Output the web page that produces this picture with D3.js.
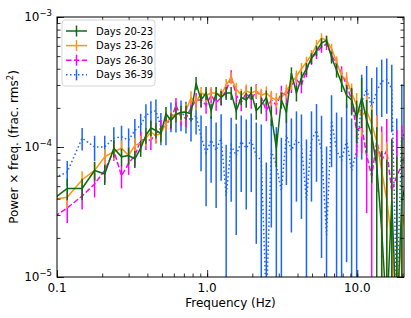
<!DOCTYPE html>
<head>
<meta charset="utf-8">
<script src="https://d3js.org/d3.v7.min.js"></script>
<style>
  body { margin: 0; background: #fff; }
  svg text { font-family: "DejaVu Sans", sans-serif; fill: #000; }
  .axis path { display: none; }
  .axis line { stroke: #000; stroke-width: 0.8; }
  .axis text { display: none; }
</style>
</head>
<body>
<div class="chart"></div>
<script>
// frequency bins (Hz)
var freq = [0.087, 0.117, 0.147, 0.178, 0.208, 0.239, 0.269, 0.300, 0.330, 0.361,
  0.391, 0.422, 0.456, 0.492, 0.532, 0.574, 0.620, 0.670, 0.723, 0.781,
  0.844, 0.911, 0.984, 1.063, 1.148, 1.240, 1.339, 1.446, 1.562, 1.687,
  1.822, 1.968, 2.125, 2.295, 2.479, 2.677, 2.891, 3.123, 3.372, 3.642,
  3.934, 4.248, 4.588, 4.955, 5.352, 5.780, 6.242, 6.742, 7.281, 7.864,
  8.493, 9.172, 9.906, 10.70, 11.55, 12.48, 13.48, 14.55, 15.72, 16.98,
  18.33, 19.80, 21.38];

// Days 20-23
var pow2023 = [3.7e-5, 4.8e-5, 4.8e-5, 6.6e-5, 6.2e-5, 9.8e-5, 8.4e-5, 8.6e-5, 8.1e-5, 9.8e-5,
  1.23e-4, 1.40e-4, 1.34e-4, 1.27e-4, 1.80e-4, 1.60e-4, 1.78e-4, 1.85e-4, 1.85e-4, 1.80e-4,
  3.1e-4, 2.3e-4, 2.6e-4, 1.9e-4, 2.6e-4, 2.4e-4, 2.6e-4, 2.6e-4, 1.9e-4, 2.4e-4,
  2.3e-4, 2.6e-4, 1.9e-4, 2.1e-4, 2.4e-4, 1.75e-4, 9.8e-5, 2.3e-4, 1.85e-4, 3.7e-4,
  2.6e-4, 3.4e-4, 4.0e-4, 4.8e-4, 5.5e-4, 6.3e-4, 6.6e-4, 4.9e-4, 3.9e-4, 3.1e-4,
  2.5e-4, 2.3e-4, 1.67e-4, 2.4e-4, 1.6e-4, 1.23e-4, 7.2e-5, 2.3e-5, 5e-6, 3.9e-5,
  4e-6, 3.9e-5, 5.5e-5];
var err2023 = [7e-6, 9e-6, 9e-6, 1.1e-5, 1.1e-5, 1.5e-5, 1.3e-5, 1.3e-5, 1.2e-5, 1.4e-5,
  1.7e-5, 1.9e-5, 1.8e-5, 1.8e-5, 2.3e-5, 2.1e-5, 2.3e-5, 2.3e-5, 2.3e-5, 2.3e-5,
  3.5e-5, 2.8e-5, 3.0e-5, 2.6e-5, 3.0e-5, 3.0e-5, 3.0e-5, 3.0e-5, 2.8e-5, 3.0e-5,
  3.0e-5, 3.0e-5, 2.8e-5, 3.0e-5, 3.2e-5, 3.0e-5, 2.8e-5, 3.3e-5, 3.2e-5, 4.0e-5,
  3.6e-5, 4.0e-5, 4.2e-5, 4.5e-5, 5.0e-5, 5.5e-5, 5.8e-5, 5.2e-5, 4.8e-5, 4.5e-5,
  5.0e-5, 5.5e-5, 6.0e-5, 1.0e-4, 7.0e-5, 7.0e-5, 7.0e-5, 7.0e-5, 7.5e-5, 7.5e-5,
  8.0e-5, 8.0e-5, 8.0e-5];

// Days 23-26
var pow2326 = [3.9e-5, 4.1e-5, 5.6e-5, 6.6e-5, 8.4e-5, 9.2e-5, 9.8e-5, 8.6e-5, 1.03e-4, 1.07e-4,
  1.17e-4, 1.30e-4, 1.23e-4, 1.27e-4, 1.52e-4, 1.70e-4, 1.80e-4, 1.80e-4, 1.90e-4, 2.4e-4,
  2.2e-4, 2.6e-4, 2.5e-4, 2.6e-4, 2.6e-4, 2.5e-4, 3.0e-4, 3.4e-4, 2.8e-4, 2.5e-4,
  2.7e-4, 2.6e-4, 2.7e-4, 2.5e-4, 2.6e-4, 2.4e-4, 2.3e-4, 2.4e-4, 2.7e-4, 3.1e-4,
  3.5e-4, 4.0e-4, 4.5e-4, 5.1e-4, 6.1e-4, 6.9e-4, 6.6e-4, 5.7e-4, 4.5e-4, 3.5e-4,
  3.3e-4, 2.6e-4, 2.1e-4, 1.75e-4, 1.9e-4, 1.5e-4, 1.1e-4, 6.6e-5, 3.9e-5, 1.9e-5,
  5e-6, 2.3e-5, 3.9e-5];
var err2326 = [6e-6, 7e-6, 9e-6, 1.0e-5, 1.2e-5, 1.3e-5, 1.4e-5, 1.3e-5, 1.5e-5, 1.5e-5,
  1.6e-5, 1.8e-5, 1.7e-5, 1.8e-5, 2.0e-5, 2.2e-5, 2.3e-5, 2.3e-5, 2.4e-5, 2.8e-5,
  2.7e-5, 3.0e-5, 3.0e-5, 3.0e-5, 3.0e-5, 3.0e-5, 3.3e-5, 3.6e-5, 3.2e-5, 3.0e-5,
  3.2e-5, 3.1e-5, 3.2e-5, 3.1e-5, 3.2e-5, 3.1e-5, 3.0e-5, 3.1e-5, 3.3e-5, 3.6e-5,
  3.8e-5, 4.2e-5, 4.5e-5, 4.8e-5, 5.5e-5, 6.0e-5, 5.8e-5, 5.3e-5, 4.8e-5, 4.4e-5,
  4.6e-5, 4.8e-5, 5.0e-5, 5.5e-5, 6.0e-5, 6.0e-5, 6.5e-5, 6.5e-5, 7.0e-5, 7.0e-5,
  7.5e-5, 7.5e-5, 8.0e-5];

// Days 26-30
var pow2630 = [2.7e-5, 3.4e-5, 4.2e-5, 5.2e-5, 6.6e-5, 9.4e-5, 6.0e-5, 7.5e-5, 8.6e-5, 1.13e-4,
  1.13e-4, 1.13e-4, 1.27e-4, 1.40e-4, 1.55e-4, 1.60e-4, 2.1e-4, 1.7e-4, 1.67e-4, 2.0e-4,
  2.3e-4, 2.3e-4, 2.1e-4, 2.5e-4, 2.2e-4, 2.4e-4, 2.7e-4, 3.5e-4, 2.5e-4, 2.2e-4,
  2.6e-4, 2.3e-4, 2.7e-4, 2.4e-4, 1.9e-4, 2.3e-4, 2.1e-4, 2.6e-4, 2.5e-4, 3.0e-4,
  3.3e-4, 3.0e-4, 3.9e-4, 4.8e-4, 5.3e-4, 5.9e-4, 6.2e-4, 5.1e-4, 4.3e-4, 3.7e-4,
  3.0e-4, 2.3e-4, 1.34e-4, 1.45e-4, 8.6e-5, 6.0e-5, 1.1e-4, 7.9e-5, 9.4e-5, 4.6e-5,
  6.0e-5, 7.2e-5, 9.4e-5];
var err2630 = [6e-6, 8e-6, 9e-6, 1.1e-5, 1.3e-5, 1.6e-5, 1.2e-5, 1.4e-5, 1.5e-5, 1.8e-5,
  1.8e-5, 1.8e-5, 2.0e-5, 2.1e-5, 2.3e-5, 2.4e-5, 2.8e-5, 2.5e-5, 2.5e-5, 2.8e-5,
  3.0e-5, 3.0e-5, 3.0e-5, 3.2e-5, 3.0e-5, 3.2e-5, 3.4e-5, 4.0e-5, 3.3e-5, 3.2e-5,
  3.4e-5, 3.3e-5, 3.5e-5, 3.4e-5, 3.2e-5, 3.4e-5, 3.3e-5, 3.6e-5, 3.6e-5, 4.0e-5,
  4.2e-5, 4.1e-5, 4.6e-5, 5.2e-5, 5.6e-5, 6.0e-5, 6.2e-5, 5.5e-5, 5.0e-5, 4.8e-5,
  4.8e-5, 5.0e-5, 5.0e-5, 5.5e-5, 5.5e-5, 6.0e-5, 6.5e-5, 6.5e-5, 7.0e-5, 7.0e-5,
  7.5e-5, 7.5e-5, 8.0e-5];

// Days 36-39
var pow3639 = [5.5e-5, 6.4e-5, 1.17e-4, 1.0e-4, 1.0e-4, 1.17e-4, 1.2e-4, 1.13e-4, 1.34e-4, 1.47e-4,
  1.75e-4, 1.85e-4, 1.9e-4, 1.43e-4, 1.43e-4, 1.75e-4, 1.75e-4, 1.8e-4, 1.75e-4, 1.6e-4,
  1.75e-4, 1.2e-4, 9.0e-5, 1.13e-4, 9.4e-5, 1.17e-4, 4.2e-5, 1.03e-4, 8.6e-5, 1.1e-4,
  9.8e-5, 1.13e-4, 8.6e-5, 7.9e-5, 6e-6, 9.4e-5, 7.2e-5, 4.6e-5, 1.23e-4, 9.4e-5,
  1.13e-4, 1.03e-4, 3.9e-5, 1.13e-4, 1.34e-4, 9.4e-5, 2.1e-5, 1.6e-4, 9.4e-5, 7.9e-5,
  1.13e-4, 6.6e-5, 9.4e-5, 2.2e-4, 2.8e-4, 2.0e-4, 2.7e-4, 3.2e-4, 3.3e-4, 2.8e-4,
  6e-6, 1.34e-4, 1.0e-4];
var err3639 = [1.2e-5, 1.4e-5, 2.3e-5, 2.2e-5, 2.2e-5, 2.5e-5, 2.6e-5, 2.6e-5, 3.0e-5, 3.3e-5,
  3.8e-5, 4.0e-5, 4.2e-5, 4.0e-5, 4.0e-5, 4.5e-5, 4.6e-5, 4.8e-5, 4.8e-5, 5.0e-5,
  5.0e-5, 5.5e-5, 5.5e-5, 6.0e-5, 6.0e-5, 6.2e-5, 6.2e-5, 6.5e-5, 6.5e-5, 6.5e-5,
  6.5e-5, 6.8e-5, 6.8e-5, 7.0e-5, 7.0e-5, 7.0e-5, 7.0e-5, 7.2e-5, 7.2e-5, 7.2e-5,
  7.5e-5, 7.5e-5, 7.5e-5, 7.5e-5, 8.0e-5, 8.0e-5, 8.0e-5, 9.0e-5, 9.0e-5, 9.0e-5,
  1.0e-4, 1.0e-4, 1.1e-4, 1.4e-4, 1.4e-4, 1.4e-4, 1.4e-4, 1.5e-4, 1.5e-4, 1.5e-4,
  1.6e-4, 1.7e-4, 1.7e-4];

var seriesNames = ["Days 20-23", "Days 23-26", "Days 26-30", "Days 36-39"];
var xTickLabels = ["0.1", "1.0", "10.0"];
var yTickExps = ["\u22125", "\u22124", "\u22123"];

var colours = ["#0f6b12", "#ff9416", "#ff00ff", "#1a64ff"];
var dashes = [null, null, "5.5,2.4", "1.5,2.5"];

var series = [
  {name: seriesNames[0], p: pow2023, e: err2023, c: colours[0], d: dashes[0]},
  {name: seriesNames[1], p: pow2326, e: err2326, c: colours[1], d: dashes[1]},
  {name: seriesNames[2], p: pow2630, e: err2630, c: colours[2], d: dashes[2]},
  {name: seriesNames[3], p: pow3639, e: err3639, c: colours[3], d: dashes[3]}
];

var W = 411, H = 318;
var margin = {top: 17, right: 7, bottom: 41, left: 57};
var width = W - margin.left - margin.right,
    height = H - margin.top - margin.bottom;

var svg = d3.select(".chart").append("svg")
    .attr("width", W).attr("height", H);

var x = d3.scaleLog().domain([0.1, 20.48]).range([0, width]);
var y = d3.scaleLog().domain([1e-5, 1e-3]).range([height, 0]);

var g = svg.append("g")
    .attr("transform", "translate(" + margin.left + "," + margin.top + ")");

g.append("clipPath").attr("id", "clip")
  .append("rect").attr("width", width).attr("height", height);

var plot = g.append("g").attr("clip-path", "url(#clip)");

var line = d3.line()
    .x(function(d, i) { return x(freq[i]); })
    .y(function(d) { return y(d); });

function lo(v) { return Math.max(v, 1e-8); }

// blue first so green ends up on top
series.slice().reverse().forEach(function(s) {
  var sg = plot.append("g");
  sg.selectAll("line")
    .data(s.p)
    .enter().append("line")
    .attr("x1", function(d, i) { return x(freq[i]); })
    .attr("x2", function(d, i) { return x(freq[i]); })
    .attr("y1", function(d, i) { return y(lo(d - s.e[i])); })
    .attr("y2", function(d, i) { return y(d + s.e[i]); })
    .attr("stroke", s.c)
    .attr("stroke-width", 1.5);
  sg.append("path")
    .datum(s.p)
    .attr("d", line)
    .attr("fill", "none")
    .attr("stroke", s.c)
    .attr("stroke-width", 1.5)
    .attr("stroke-dasharray", s.d);
});

// axes: ticks inside on all four sides
var xMinor = x.ticks(), yMinor = y.ticks();
var xMajor = [0.1, 1, 10], yMajor = [1e-5, 1e-4, 1e-3];

function ax(gen, scale, vals, size, tr) {
  g.append("g").attr("class", "axis")
    .attr("transform", tr)
    .call(gen(scale).tickValues(vals).tickSize(size).tickSizeOuter(0).tickFormat(""));
}
ax(d3.axisBottom, x, xMinor, -3.5, "translate(0," + height + ")");
ax(d3.axisBottom, x, xMajor, -7, "translate(0," + height + ")");
ax(d3.axisTop, x, xMinor, -3.5, "translate(0,0)");
ax(d3.axisTop, x, xMajor, -7, "translate(0,0)");
ax(d3.axisLeft, y, yMinor, -3.5, "translate(0,0)");
ax(d3.axisLeft, y, yMajor, -7, "translate(0,0)");
ax(d3.axisRight, y, yMinor, -3.5, "translate(" + width + ",0)");
ax(d3.axisRight, y, yMajor, -7, "translate(" + width + ",0)");

g.append("rect")
  .attr("width", width).attr("height", height)
  .attr("fill", "none").attr("stroke", "#000").attr("stroke-width", 1);

// tick labels
g.selectAll(".xlab").data(xMajor).enter().append("text")
  .attr("x", function(d) { return x(d); })
  .attr("y", height + 15)
  .attr("text-anchor", "middle")
  .style("font-size", "12px")
  .text(function(d, i) { return xTickLabels[i]; });

var yl = g.selectAll(".ylab").data(yMajor).enter().append("text")
  .attr("x", -5)
  .attr("y", function(d) { return y(d) + 4; })
  .attr("text-anchor", "end")
  .style("font-size", "12px");
yl.append("tspan").text("10");
yl.append("tspan").attr("dy", -5).style("font-size", "8.5px")
  .text(function(d, i) { return yTickExps[i]; });

// axis titles
g.append("text")
  .attr("x", width / 2).attr("y", height + 30)
  .attr("text-anchor", "middle")
  .style("font-size", "12px")
  .text("Frequency (Hz)");

var yt = svg.append("text")
  .attr("transform", "translate(18," + (margin.top + height / 2) + ") rotate(-90)")
  .attr("text-anchor", "middle")
  .style("font-size", "12px");
yt.append("tspan").text("Power \u00d7 freq. (frac. rms");
yt.append("tspan").attr("dy", -5).style("font-size", "8.5px").text("2");
yt.append("tspan").attr("dy", 5).text(")");

// legend
var leg = g.append("g").attr("transform", "translate(5,3)");
leg.append("rect")
  .attr("width", 93).attr("height", 66).attr("rx", 3)
  .attr("fill", "#fff").attr("fill-opacity", 0.8)
  .attr("stroke", "#ccc").attr("stroke-width", 0.8);

var rows = leg.selectAll(".row").data(series).enter().append("g")
  .attr("transform", function(d, i) { return "translate(0," + (11 + i * 14.6) + ")"; });
rows.append("line")
  .attr("x1", 4).attr("x2", 25).attr("y1", 0).attr("y2", 0)
  .attr("stroke", function(d) { return d.c; })
  .attr("stroke-width", 1.5)
  .attr("stroke-dasharray", function(d) { return d.d; });
rows.append("line")
  .attr("x1", 14.5).attr("x2", 14.5).attr("y1", -5.5).attr("y2", 5.5)
  .attr("stroke", function(d) { return d.c; })
  .attr("stroke-width", 1.5);
rows.append("text")
  .attr("x", 34).attr("y", 3.6)
  .style("font-size", "10px")
  .text(function(d) { return d.name; });
</script>
</body>
